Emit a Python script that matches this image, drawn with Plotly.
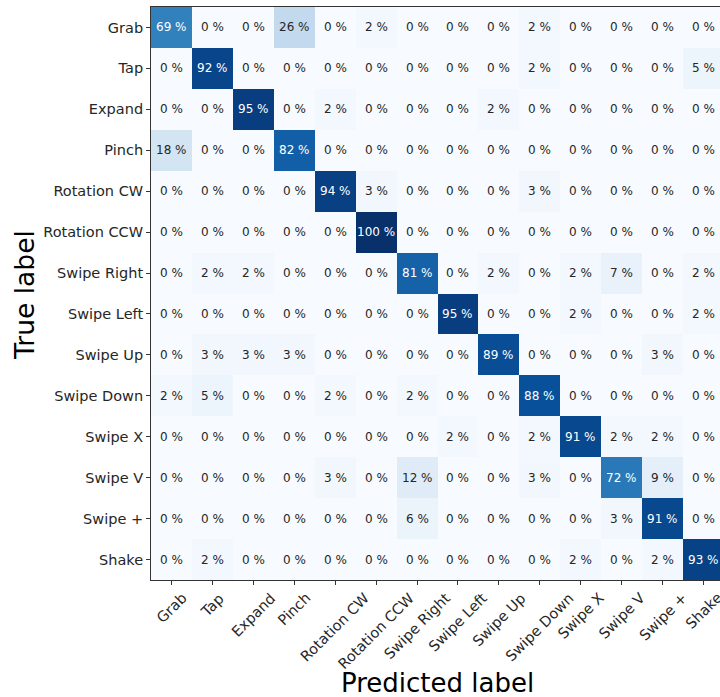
import plotly.graph_objects as go

labels = ["Grab", "Tap", "Expand", "Pinch", "Rotation CW", "Rotation CCW",
          "Swipe Right", "Swipe Left", "Swipe Up", "Swipe Down", "Swipe X",
          "Swipe V", "Swipe +", "Shake"]

row_grab = [69, 0, 0, 26, 0, 2, 0, 0, 0, 2, 0, 0, 0, 0]
row_tap = [0, 92, 0, 0, 0, 0, 0, 0, 0, 2, 0, 0, 0, 5]
row_expand = [0, 0, 95, 0, 2, 0, 0, 0, 2, 0, 0, 0, 0, 0]
row_pinch = [18, 0, 0, 82, 0, 0, 0, 0, 0, 0, 0, 0, 0, 0]
row_rot_cw = [0, 0, 0, 0, 94, 3, 0, 0, 0, 3, 0, 0, 0, 0]
row_rot_ccw = [0, 0, 0, 0, 0, 100, 0, 0, 0, 0, 0, 0, 0, 0]
row_sw_right = [0, 2, 2, 0, 0, 0, 81, 0, 2, 0, 2, 7, 0, 2]
row_sw_left = [0, 0, 0, 0, 0, 0, 0, 95, 0, 0, 2, 0, 0, 2]
row_sw_up = [0, 3, 3, 3, 0, 0, 0, 0, 89, 0, 0, 0, 3, 0]
row_sw_down = [2, 5, 0, 0, 2, 0, 2, 0, 0, 88, 0, 0, 0, 0]
row_sw_x = [0, 0, 0, 0, 0, 0, 0, 2, 0, 2, 91, 2, 2, 0]
row_sw_v = [0, 0, 0, 0, 3, 0, 12, 0, 0, 3, 0, 72, 9, 0]
row_sw_plus = [0, 0, 0, 0, 0, 0, 6, 0, 0, 0, 0, 3, 91, 0]
row_shake = [0, 2, 0, 0, 0, 0, 0, 0, 0, 0, 2, 0, 2, 93]

matrix = [row_grab, row_tap, row_expand, row_pinch, row_rot_cw, row_rot_ccw,
          row_sw_right, row_sw_left, row_sw_up, row_sw_down, row_sw_x,
          row_sw_v, row_sw_plus, row_shake]

blues = ["#f7fbff", "#deebf7", "#c6dbef", "#9ecae1", "#6baed6",
         "#4292c6", "#2171b5", "#08519c", "#08306b"]
colorscale = [[i / 8, c] for i, c in enumerate(blues)]

n = len(labels)
idx = list(range(n))

ML, MT, MB = 151, 7, 117
W, H = 720, 697
PW = W - ML
PH = H - MT - MB
cell = PH / n
xmax = -0.5 + PW / cell

fig = go.Figure(go.Heatmap(
    z=matrix, x=idx, y=idx, colorscale=colorscale, zmin=0, zmax=100,
    showscale=False, hoverinfo="skip",
))

annotations = []
for i in range(n):
    for j in range(n):
        v = matrix[i][j]
        annotations.append(dict(
            x=j, y=i, xref="x", yref="y", text=f"{v} %", showarrow=False,
            font=dict(family="DejaVu Sans", size=12,
                      color="#ffffff" if v > 50 else "#262626"),
        ))


def px_x(page_x):
    return (page_x - ML) / PW


def px_y(page_y):
    return (MT + PH - page_y) / PH


# rotated x tick labels, centred under their ticks (matplotlib style)
for j, lab in enumerate(labels):
    annotations.append(dict(
        x=j, y=px_y(587), xref="x", yref="paper", text=lab, showarrow=False,
        textangle=-45, xanchor="center", yanchor="top",
        font=dict(family="DejaVu Sans", size=14.5, color="#262626"),
    ))

annotations.append(dict(
    x=px_x(24), y=px_y(295), xref="paper", yref="paper", text="True label",
    showarrow=False, textangle=-90, xanchor="center", yanchor="middle",
    font=dict(family="DejaVu Sans", size=26.5, color="#000000"),
))
annotations.append(dict(
    x=px_x(437), y=px_y(683), xref="paper", yref="paper",
    text="Predicted label", showarrow=False, xanchor="center", yanchor="middle",
    font=dict(family="DejaVu Sans", size=26, color="#000000"),
))

fig.update_layout(
    width=W, height=H,
    margin=dict(l=ML, r=0, t=MT, b=MB, pad=0),
    paper_bgcolor="white", plot_bgcolor="white",
    annotations=annotations,
    font=dict(family="DejaVu Sans", color="#262626"),
    xaxis=dict(
        range=[-0.5, xmax], tickvals=idx, showticklabels=False,
        ticks="outside", ticklen=4, tickcolor="#333", tickwidth=1,
        showline=True, linecolor="#333", linewidth=1, mirror=True,
        showgrid=False, zeroline=False,
        fixedrange=True,
    ),
    yaxis=dict(
        range=[13.5, -0.5], tickvals=idx, ticktext=labels,
        ticks="outside", ticklen=4, tickcolor="#333", tickwidth=1,
        showline=True, linecolor="#333", linewidth=1, mirror=False,
        showgrid=False, zeroline=False, tickfont=dict(size=14.5),
        fixedrange=True,
    ),
)

fig.write_html(
    "out.html",
    config={"displayModeBar": False},
    post_script="document.body.style.margin='0';document.body.style.overflow='hidden';",
)
